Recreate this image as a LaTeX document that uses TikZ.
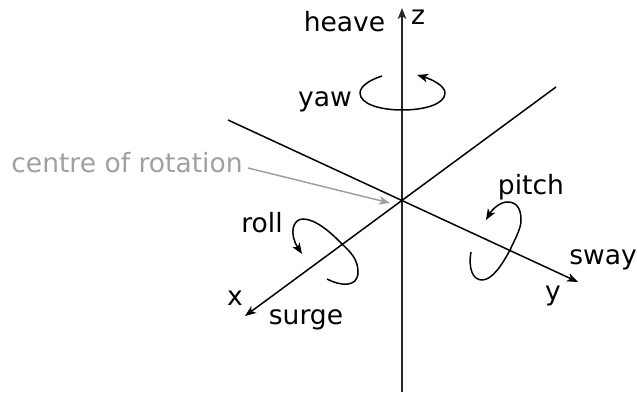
\documentclass[tikz,border=0pt]{standalone}
\usepackage{fontspec}
\setmainfont{DejaVu Sans}
\usetikzlibrary{arrows.meta}
\definecolor{centregray}{RGB}{160, 160, 160}

\begin{document}
\begin{tikzpicture}[
    label/.style={inner sep=0pt, font=\fontsize{15.1}{17}\selectfont},
    tip/.style={-{Stealth[length=2.2mm, width=1.7mm, inset=0.6mm]}},
    axis/.style={tip, line width=0.85pt},
    turn/.style={tip, line width=0.85pt}
]
    \useasboundingbox (0, 0) rectangle (12.74, 7.88);

    % Axes
    \coordinate (ztop) at (8.04, 7.72);
    \coordinate (zbot) at (8.04, 0.04);
    \coordinate (xtip) at (4.9, 1.56);
    \coordinate (xend) at (11.12, 6.14);
    \coordinate (ytip) at (11.56, 2.24);
    \coordinate (yend) at (4.56, 5.48);
    \draw[axis, line width=1.1pt, draw=black!85] (zbot) -- (ztop);
    \draw[axis] (xend) -- (xtip);
    \draw[axis] (yend) -- (ytip);

    % Labels
    \node[label] (heave) at (6.89, 7.44) {heave};
    \node[label] (zlabel) at (8.36, 7.54) {z};
    \node[label] (yaw) at (6.5, 5.84) {yaw};
    \node[label, text=centregray] (rotation) at (2.54, 4.62) {centre of rotation};
    \node[label] (roll) at (5.24, 3.42) {roll};
    \node[label] (surge) at (6.12, 1.48) {surge};
    \node[label] (xlabel) at (4.7, 1.92) {x};
    \node[label] (pitch) at (10.62, 4.14) {pitch};
    \node[label] (sway) at (12.06, 2.68) {sway};
    \node[label] (ylabel) at (11.06, 1.96) {y};

    % Rotations
    \coordinate (yawstart) at (7.64, 6.36);
    \coordinate (yawtip) at (8.34, 6.38);
    \draw[turn] (yawstart) .. controls (7.36, 6.27) and (7.2, 6.14) .. (7.2, 6.02)
        .. controls (7.2, 5.8) and (7.6, 5.68) .. (8.04, 5.68)
        .. controls (8.5, 5.68) and (8.9, 5.8) .. (8.9, 6.02)
        .. controls (8.9, 6.16) and (8.65, 6.29) .. (yawtip);
    \coordinate (rollstart) at (6.54, 2.3);
    \coordinate (rolltip) at (6.04, 2.8);
    \draw[turn] (rollstart) .. controls (6.8, 2.16) and (7.16, 2.12) .. (7.16, 2.44)
        .. controls (7.16, 2.7) and (7.0, 2.85) .. (6.84, 3.0)
        .. controls (6.6, 3.25) and (6.3, 3.5) .. (6.06, 3.5)
        .. controls (5.85, 3.5) and (5.78, 3.2) .. (rolltip);
    \coordinate (pitchstart) at (9.42, 2.84);
    \coordinate (pitchtip) at (9.72, 3.48);
    \draw[turn] (pitchstart) .. controls (9.36, 2.5) and (9.46, 2.28) .. (9.64, 2.28)
        .. controls (9.85, 2.28) and (10.05, 2.6) .. (10.2, 2.88)
        .. controls (10.3, 3.1) and (10.42, 3.3) .. (10.42, 3.48)
        .. controls (10.42, 3.75) and (10.3, 3.84) .. (10.15, 3.84)
        .. controls (10.0, 3.84) and (9.85, 3.7) .. (pitchtip);

    % Pointer
    \coordinate (pointer) at (7.8, 3.82);
    \draw[tip, line width=0.85pt, draw=centregray, fill=centregray] (rotation.east) ++(0.1, -0.1) -- (pointer);
\end{tikzpicture}
\end{document}
